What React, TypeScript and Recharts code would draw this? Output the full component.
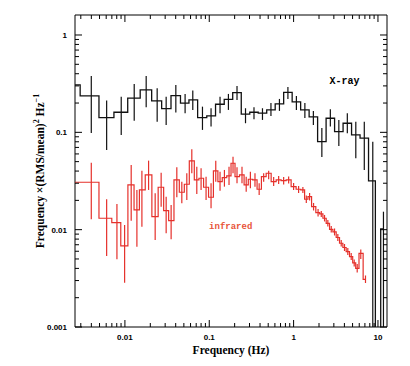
import React from 'react';
import { ComposedChart, Line, XAxis, YAxis, ErrorBar, ReferenceArea, ReferenceDot, Label } from 'recharts';

// ---------- data ----------
const xrayFreq = [0.002175, 0.003993, 0.006073, 0.009042, 0.01289, 0.01787, 0.02412, 0.03083, 0.04015, 0.05171, 0.06378, 0.08307, 0.105, 0.1342, 0.1687, 0.2133, 0.269, 0.3391, 0.4274, 0.5387, 0.6792, 0.856, 1.079, 1.36, 1.715, 2.162, 2.726, 3.437, 4.333, 5.462, 6.886, 8.682, 10.0, 11.62];
const xrayPower = [0.307, 0.2366, 0.1416, 0.1609, 0.2241, 0.2728, 0.2102, 0.1752, 0.2383, 0.1991, 0.2153, 0.1416, 0.1475, 0.1944, 0.2179, 0.2559, 0.1535, 0.1609, 0.1572, 0.1699, 0.1958, 0.257, 0.2053, 0.1699, 0.144, 0.0802, 0.1396, 0.1017, 0.124, 0.094, 0.087, 0.0317, 0.0005, 0.0102];
const xrayLow = [0.307, 0.0986, 0.0659, 0.094, 0.1319, 0.1811, 0.1288, 0.1192, 0.1594, 0.1572, 0.1699, 0.1059, 0.1145, 0.1572, 0.1699, 0.2153, 0.124, 0.1364, 0.1341, 0.1475, 0.166, 0.2204, 0.1699, 0.1406, 0.1192, 0.0559, 0.1145, 0.0725, 0.0979, 0.0542, 0.0411, 0.001, 0.0005, 0.001];
const xrayHigh = [0.307, 0.38, 0.2118, 0.2327, 0.3144, 0.38, 0.2839, 0.2327, 0.307, 0.2481, 0.2683, 0.1836, 0.1768, 0.2327, 0.2481, 0.2998, 0.1768, 0.1811, 0.1768, 0.2005, 0.2204, 0.2928, 0.2366, 0.2005, 0.166, 0.111, 0.1727, 0.1341, 0.1572, 0.1288, 0.1288, 0.0802, 0.0005, 0.0153];

const irFreq = [0.002175, 0.003993, 0.006073, 0.008042, 0.009919, 0.01187, 0.01387, 0.0159, 0.01908, 0.02284, 0.02689, 0.03083, 0.03531, 0.04124, 0.04727, 0.05417, 0.06209, 0.07116, 0.07998, 0.09166, 0.105, 0.1194, 0.1342, 0.1513, 0.1715, 0.1913, 0.2133, 0.2444, 0.2741, 0.3073, 0.3484, 0.3905, 0.4415, 0.506, 0.58, 0.6647, 0.7619, 0.8732, 1.0, 1.146, 1.288, 1.414, 1.547, 1.724, 1.95, 2.128, 2.327, 2.546, 2.794, 3.057, 3.344, 3.668, 4.013, 4.391, 4.818, 5.228, 5.675, 6.258, 7.116];
const irPower = [0.03071, 0.03071, 0.0131, 0.0118, 0.0068, 0.0288, 0.01594, 0.02559, 0.03648, 0.0136, 0.02728, 0.01568, 0.01238, 0.03242, 0.02422, 0.02928, 0.05083, 0.03242, 0.03376, 0.02728, 0.02153, 0.0401, 0.03115, 0.03424, 0.03564, 0.04814, 0.03506, 0.03648, 0.0288, 0.03297, 0.03242, 0.02602, 0.03506, 0.03798, 0.03115, 0.03242, 0.03189, 0.03242, 0.02767, 0.02602, 0.02559, 0.02053, 0.02184, 0.01723, 0.01495, 0.0145, 0.0131, 0.01163, 0.01009, 0.00947, 0.00831, 0.00725, 0.00656, 0.00594, 0.00528, 0.00455, 0.00401, 0.00572, 0.00309];
const irLow = [0.03071, 0.01279, 0.005365, 0.004962, 0.002852, 0.012375, 0.006687, 0.010735, 0.025585, 0.007836, 0.017228, 0.009183, 0.007966, 0.021528, 0.018676, 0.020193, 0.037983, 0.023267, 0.025585, 0.020193, 0.016596, 0.031145, 0.025165, 0.027666, 0.0288, 0.037983, 0.029981, 0.029981, 0.024577, 0.02664, 0.027666, 0.022723, 0.031145, 0.032966, 0.028128, 0.02949, 0.029143, 0.029841, 0.025585, 0.023824, 0.023824, 0.018809, 0.019955, 0.015753, 0.013667, 0.013506, 0.012142, 0.010785, 0.009358, 0.008717, 0.007653, 0.006719, 0.00604, 0.005493, 0.004881, 0.004184, 0.003631, 0.004998, 0.002832];
const irHigh = [0.03071, 0.048834, 0.020532, 0.018369, 0.011175, 0.04624, 0.025585, 0.04039, 0.051195, 0.023655, 0.038527, 0.021837, 0.01794, 0.043788, 0.031145, 0.037983, 0.067043, 0.044415, 0.042764, 0.035056, 0.029981, 0.051195, 0.039445, 0.041065, 0.044415, 0.056258, 0.043788, 0.044415, 0.035056, 0.039445, 0.037983, 0.029981, 0.037983, 0.04039, 0.034807, 0.035641, 0.034807, 0.035222, 0.030196, 0.028128, 0.027471, 0.022456, 0.023824, 0.018809, 0.016322, 0.015567, 0.014161, 0.012583, 0.010914, 0.010286, 0.009032, 0.007836, 0.007126, 0.006485, 0.005761, 0.004939, 0.00444, 0.006257, 0.003383];

const xMajorTicks = [0.01, 0.1, 1, 10];
const xMajorLabels = ['0.01', '0.1', '1', '10'];
const yMajorTicks = [0.001, 0.01, 0.1, 1];
const yMajorLabels = ['0.001', '0.01', '0.1', '1'];
const decades = [0.001, 0.01, 0.1, 1, 10];
const minorSteps = [1, 2, 3, 4, 5, 6, 7, 8, 9];

const X_DOMAIN: [number, number] = [0.00256, 12.8];
const Y_DOMAIN: [number, number] = [0.001, 1.605];

const xrayLabel = { f: 4.014, v: 0.33, text: 'X-ray' };
const irLabel = { f: 0.1796, v: 0.01066, text: 'infrared' };

// ---------- tables built from the arrays ----------
const xrayData = xrayFreq.map((f, i) => ({ f, v: xrayPower[i], err: [xrayPower[i] - xrayLow[i], xrayHigh[i] - xrayPower[i]] }));
const irData = irFreq.map((f, i) => ({ f, v: irPower[i], err: [irPower[i] - irLow[i], irHigh[i] - irPower[i]] }));

const allTicks = decades.flatMap((d) => minorSteps.map((m) => +(d * m).toPrecision(6)));
const xTicks = allTicks.filter((t) => t >= X_DOMAIN[0] && t <= X_DOMAIN[1]);
const yTicks = allTicks.filter((t) => t >= Y_DOMAIN[0] && t <= Y_DOMAIN[1]);

// ---------- layout ----------
const W = 410;
const H = 366;
const PL = 75;
const PR = 387;
const PT = 15;
const PB = 327;
const MAJOR = 7;
const MINOR = 4;

const BLACK = '#111111';
const RED = '#e5302b';
const TICK_FONT = '"Liberation Sans", Arial, sans-serif';
const TITLE_FONT = '"Liberation Serif", "Times New Roman", serif';
const MONO_FONT = '"Liberation Mono", "Courier New", monospace';

const majorIndex = (v: number, list: number[]) => list.findIndex((d) => Math.abs(d - v) / d < 1e-6);

const XTick = (props: any) => {
  const { x, payload } = props;
  const idx = majorIndex(payload.value, xMajorTicks);
  const len = idx >= 0 ? MAJOR : MINOR;
  return (
    <g>
      <line x1={x} x2={x} y1={PB} y2={PB - len} stroke="#000" strokeWidth={1} />
      <line x1={x} x2={x} y1={PT} y2={PT + len} stroke="#000" strokeWidth={1} />
      {idx >= 0 && (
        <text x={x} y={PB + 13} textAnchor="middle" fontFamily={TICK_FONT} fontSize={8} fontWeight="bold" fill="#000">
          {xMajorLabels[idx]}
        </text>
      )}
    </g>
  );
};

const YTick = (props: any) => {
  const { y, payload } = props;
  const idx = majorIndex(payload.value, yMajorTicks);
  const len = idx >= 0 ? MAJOR : MINOR;
  return (
    <g>
      <line x1={PL} x2={PL + len} y1={y} y2={y} stroke="#000" strokeWidth={1} />
      <line x1={PR} x2={PR - len} y1={y} y2={y} stroke="#000" strokeWidth={1} />
      {idx >= 0 && (
        <text x={PL - 8} y={y + 3} textAnchor="end" fontFamily={TICK_FONT} fontSize={8} fontWeight="bold" fill="#000">
          {yMajorLabels[idx]}
        </text>
      )}
    </g>
  );
};

const XTitle = (props: any) => {
  const vb = props.viewBox || { x: PL, y: PB, width: PR - PL, height: 30 };
  return (
    <text x={vb.x + vb.width / 2} y={vb.y + 27} textAnchor="middle" fontFamily={TITLE_FONT} fontSize={11.5} fontWeight="bold" fill="#000">
      Frequency (Hz)
    </text>
  );
};

const YTitle = () => {
  const cx = 40;
  const cy = 171;
  return (
    <text x={cx} y={cy} transform={`rotate(-90 ${cx} ${cy})`} textAnchor="middle" dominantBaseline="central" fontFamily={TITLE_FONT} fontSize={11.5} fontWeight="bold" fill="#000">
      Frequency ×(RMS/mean)
      <tspan dy={-4} fontSize={8}>2</tspan>
      <tspan dy={4}> Hz</tspan>
      <tspan dy={-4} fontSize={8}>−1</tspan>
    </text>
  );
};

const textShape = (text: string, color: string, size: number) => (props: any) => (
  <text x={props.cx} y={props.cy} textAnchor="middle" dominantBaseline="central" fontFamily={MONO_FONT} fontSize={size} fontWeight="bold" fill={color}>
    {text}
  </text>
);

export default function App() {
  return (
    <div style={{ position: 'absolute', left: 0, top: 0, width: W, height: H, background: '#fff' }}>
      <ComposedChart width={W} height={H} margin={{ top: PT, right: W - PR, bottom: 9, left: 15 }}>
        <XAxis
          dataKey="f"
          type="number"
          scale="log"
          domain={X_DOMAIN}
          allowDataOverflow
          ticks={xTicks}
          interval={0}
          tick={XTick}
          tickLine={false}
          axisLine={false}
          height={30}
        >
          <Label content={XTitle} />
        </XAxis>
        <YAxis
          type="number"
          scale="log"
          domain={Y_DOMAIN}
          allowDataOverflow
          ticks={yTicks}
          interval={0}
          tick={YTick}
          tickLine={false}
          axisLine={false}
          width={60}
        >
          <Label content={YTitle} />
        </YAxis>
        <ReferenceArea x1={X_DOMAIN[0]} x2={X_DOMAIN[1]} y1={Y_DOMAIN[0]} y2={Y_DOMAIN[1]} fill="none" stroke="#000" strokeWidth={1} ifOverflow="visible" />
        <Line data={xrayData} dataKey="v" type="step" stroke={BLACK} strokeWidth={1.3} dot={false} isAnimationActive={false}>
          <ErrorBar dataKey="err" width={0} stroke={BLACK} strokeWidth={1.2} direction="y" />
        </Line>
        <Line data={irData} dataKey="v" type="step" stroke={RED} strokeWidth={1.2} dot={false} isAnimationActive={false}>
          <ErrorBar dataKey="err" width={0} stroke={RED} strokeWidth={1.2} direction="y" />
        </Line>
        <ReferenceDot x={xrayLabel.f} y={xrayLabel.v} r={4} ifOverflow="visible" shape={textShape(xrayLabel.text, '#000', 10)} />
        <ReferenceDot x={irLabel.f} y={irLabel.v} r={4} ifOverflow="visible" shape={textShape(irLabel.text, '#e8553a', 9)} />
      </ComposedChart>
    </div>
  );
}
